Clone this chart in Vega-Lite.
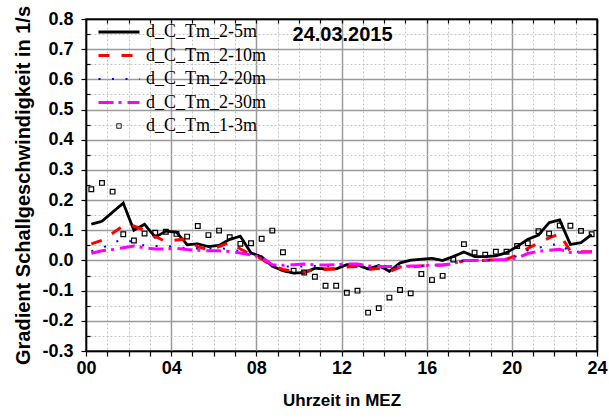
{
  "$schema": "https://vega.github.io/schema/vega-lite/v6.json",
  "width": 511,
  "height": 332,
  "autosize": {"type": "none"},
  "padding": {"left": 86, "top": 19, "right": 12, "bottom": 68},
  "background": "white",
  "config": {
    "view": {"stroke": "black", "strokeWidth": 1.5},
    "axis": {
      "domainColor": "black",
      "domainWidth": 1.5,
      "tickColor": "black",
      "tickWidth": 1.2,
      "labelFont": "Liberation Sans",
      "labelFontWeight": "bold",
      "labelFontSize": 18,
      "labelColor": "black",
      "titleFont": "Liberation Sans",
      "titleFontWeight": "bold",
      "titleColor": "black"
    }
  },
  "data": {
    "values": [
      {"t": 0.25, "v": 0.12, "s": "d_C_Tm_2-5m"},
      {"t": 0.75, "v": 0.13, "s": "d_C_Tm_2-5m"},
      {"t": 1.25, "v": 0.16, "s": "d_C_Tm_2-5m"},
      {"t": 1.75, "v": 0.19, "s": "d_C_Tm_2-5m"},
      {"t": 2.25, "v": 0.10, "s": "d_C_Tm_2-5m"},
      {"t": 2.75, "v": 0.12, "s": "d_C_Tm_2-5m"},
      {"t": 3.25, "v": 0.077, "s": "d_C_Tm_2-5m"},
      {"t": 3.75, "v": 0.097, "s": "d_C_Tm_2-5m"},
      {"t": 4.25, "v": 0.094, "s": "d_C_Tm_2-5m"},
      {"t": 4.75, "v": 0.052, "s": "d_C_Tm_2-5m"},
      {"t": 5.25, "v": 0.055, "s": "d_C_Tm_2-5m"},
      {"t": 5.75, "v": 0.046, "s": "d_C_Tm_2-5m"},
      {"t": 6.25, "v": 0.05, "s": "d_C_Tm_2-5m"},
      {"t": 6.75, "v": 0.07, "s": "d_C_Tm_2-5m"},
      {"t": 7.25, "v": 0.08, "s": "d_C_Tm_2-5m"},
      {"t": 7.75, "v": 0.025, "s": "d_C_Tm_2-5m"},
      {"t": 8.25, "v": 0.012, "s": "d_C_Tm_2-5m"},
      {"t": 8.75, "v": -0.019, "s": "d_C_Tm_2-5m"},
      {"t": 9.25, "v": -0.034, "s": "d_C_Tm_2-5m"},
      {"t": 9.75, "v": -0.042, "s": "d_C_Tm_2-5m"},
      {"t": 10.25, "v": -0.04, "s": "d_C_Tm_2-5m"},
      {"t": 10.75, "v": -0.026, "s": "d_C_Tm_2-5m"},
      {"t": 11.25, "v": -0.028, "s": "d_C_Tm_2-5m"},
      {"t": 11.75, "v": -0.028, "s": "d_C_Tm_2-5m"},
      {"t": 12.25, "v": -0.014, "s": "d_C_Tm_2-5m"},
      {"t": 12.75, "v": -0.015, "s": "d_C_Tm_2-5m"},
      {"t": 13.25, "v": -0.028, "s": "d_C_Tm_2-5m"},
      {"t": 13.75, "v": -0.017, "s": "d_C_Tm_2-5m"},
      {"t": 14.25, "v": -0.036, "s": "d_C_Tm_2-5m"},
      {"t": 14.75, "v": -0.008, "s": "d_C_Tm_2-5m"},
      {"t": 15.25, "v": 0.001, "s": "d_C_Tm_2-5m"},
      {"t": 15.75, "v": 0.004, "s": "d_C_Tm_2-5m"},
      {"t": 16.25, "v": 0.007, "s": "d_C_Tm_2-5m"},
      {"t": 16.75, "v": 0.0, "s": "d_C_Tm_2-5m"},
      {"t": 17.25, "v": 0.013, "s": "d_C_Tm_2-5m"},
      {"t": 17.75, "v": 0.028, "s": "d_C_Tm_2-5m"},
      {"t": 18.25, "v": 0.013, "s": "d_C_Tm_2-5m"},
      {"t": 18.75, "v": 0.013, "s": "d_C_Tm_2-5m"},
      {"t": 19.25, "v": 0.015, "s": "d_C_Tm_2-5m"},
      {"t": 19.75, "v": 0.026, "s": "d_C_Tm_2-5m"},
      {"t": 20.25, "v": 0.046, "s": "d_C_Tm_2-5m"},
      {"t": 20.75, "v": 0.07, "s": "d_C_Tm_2-5m"},
      {"t": 21.25, "v": 0.084, "s": "d_C_Tm_2-5m"},
      {"t": 21.75, "v": 0.125, "s": "d_C_Tm_2-5m"},
      {"t": 22.25, "v": 0.134, "s": "d_C_Tm_2-5m"},
      {"t": 22.75, "v": 0.053, "s": "d_C_Tm_2-5m"},
      {"t": 23.25, "v": 0.059, "s": "d_C_Tm_2-5m"},
      {"t": 23.75, "v": 0.086, "s": "d_C_Tm_2-5m"},

      {"t": 0.25, "v": 0.055, "s": "d_C_Tm_2-10m"},
      {"t": 0.75, "v": 0.067, "s": "d_C_Tm_2-10m"},
      {"t": 1.25, "v": 0.09, "s": "d_C_Tm_2-10m"},
      {"t": 1.75, "v": 0.115, "s": "d_C_Tm_2-10m"},
      {"t": 2.25, "v": 0.114, "s": "d_C_Tm_2-10m"},
      {"t": 2.75, "v": 0.10, "s": "d_C_Tm_2-10m"},
      {"t": 3.25, "v": 0.08, "s": "d_C_Tm_2-10m"},
      {"t": 3.75, "v": 0.062, "s": "d_C_Tm_2-10m"},
      {"t": 4.25, "v": 0.068, "s": "d_C_Tm_2-10m"},
      {"t": 4.75, "v": 0.072, "s": "d_C_Tm_2-10m"},
      {"t": 5.25, "v": 0.045, "s": "d_C_Tm_2-10m"},
      {"t": 5.75, "v": 0.036, "s": "d_C_Tm_2-10m"},
      {"t": 6.25, "v": 0.046, "s": "d_C_Tm_2-10m"},
      {"t": 6.75, "v": 0.06, "s": "d_C_Tm_2-10m"},
      {"t": 7.25, "v": 0.038, "s": "d_C_Tm_2-10m"},
      {"t": 7.75, "v": 0.02, "s": "d_C_Tm_2-10m"},
      {"t": 8.25, "v": 0.005, "s": "d_C_Tm_2-10m"},
      {"t": 8.75, "v": -0.018, "s": "d_C_Tm_2-10m"},
      {"t": 9.25, "v": -0.03, "s": "d_C_Tm_2-10m"},
      {"t": 9.75, "v": -0.036, "s": "d_C_Tm_2-10m"},
      {"t": 10.25, "v": -0.038, "s": "d_C_Tm_2-10m"},
      {"t": 10.75, "v": -0.03, "s": "d_C_Tm_2-10m"},
      {"t": 11.25, "v": -0.03, "s": "d_C_Tm_2-10m"},
      {"t": 11.75, "v": -0.028, "s": "d_C_Tm_2-10m"},
      {"t": 12.25, "v": -0.022, "s": "d_C_Tm_2-10m"},
      {"t": 12.75, "v": -0.02, "s": "d_C_Tm_2-10m"},
      {"t": 13.25, "v": -0.03, "s": "d_C_Tm_2-10m"},
      {"t": 13.75, "v": -0.026, "s": "d_C_Tm_2-10m"},
      {"t": 14.25, "v": -0.037, "s": "d_C_Tm_2-10m"},
      {"t": 14.75, "v": -0.022, "s": "d_C_Tm_2-10m"},
      {"t": 15.25, "v": -0.022, "s": "d_C_Tm_2-10m"},
      {"t": 15.75, "v": -0.018, "s": "d_C_Tm_2-10m"},
      {"t": 16.25, "v": -0.016, "s": "d_C_Tm_2-10m"},
      {"t": 16.75, "v": -0.015, "s": "d_C_Tm_2-10m"},
      {"t": 17.25, "v": -0.012, "s": "d_C_Tm_2-10m"},
      {"t": 17.75, "v": 0.0, "s": "d_C_Tm_2-10m"},
      {"t": 18.25, "v": 0.0, "s": "d_C_Tm_2-10m"},
      {"t": 18.75, "v": 0.0, "s": "d_C_Tm_2-10m"},
      {"t": 19.25, "v": 0.003, "s": "d_C_Tm_2-10m"},
      {"t": 19.75, "v": 0.004, "s": "d_C_Tm_2-10m"},
      {"t": 20.25, "v": 0.018, "s": "d_C_Tm_2-10m"},
      {"t": 20.75, "v": 0.04, "s": "d_C_Tm_2-10m"},
      {"t": 21.25, "v": 0.058, "s": "d_C_Tm_2-10m"},
      {"t": 21.75, "v": 0.075, "s": "d_C_Tm_2-10m"},
      {"t": 22.25, "v": 0.088, "s": "d_C_Tm_2-10m"},
      {"t": 22.75, "v": 0.03, "s": "d_C_Tm_2-10m"},
      {"t": 23.25, "v": 0.029, "s": "d_C_Tm_2-10m"},
      {"t": 23.75, "v": 0.029, "s": "d_C_Tm_2-10m"},

      {"t": 0.25, "v": 0.031, "s": "d_C_Tm_2-20m"},
      {"t": 0.75, "v": 0.04, "s": "d_C_Tm_2-20m"},
      {"t": 1.25, "v": 0.059, "s": "d_C_Tm_2-20m"},
      {"t": 1.75, "v": 0.07, "s": "d_C_Tm_2-20m"},
      {"t": 2.25, "v": 0.06, "s": "d_C_Tm_2-20m"},
      {"t": 2.75, "v": 0.049, "s": "d_C_Tm_2-20m"},
      {"t": 3.25, "v": 0.048, "s": "d_C_Tm_2-20m"},
      {"t": 3.75, "v": 0.048, "s": "d_C_Tm_2-20m"},
      {"t": 4.25, "v": 0.045, "s": "d_C_Tm_2-20m"},
      {"t": 4.75, "v": 0.04, "s": "d_C_Tm_2-20m"},
      {"t": 5.25, "v": 0.04, "s": "d_C_Tm_2-20m"},
      {"t": 5.75, "v": 0.04, "s": "d_C_Tm_2-20m"},
      {"t": 6.25, "v": 0.04, "s": "d_C_Tm_2-20m"},
      {"t": 6.75, "v": 0.038, "s": "d_C_Tm_2-20m"},
      {"t": 7.25, "v": 0.03, "s": "d_C_Tm_2-20m"},
      {"t": 7.75, "v": 0.022, "s": "d_C_Tm_2-20m"},
      {"t": 8.25, "v": 0.008, "s": "d_C_Tm_2-20m"},
      {"t": 8.75, "v": -0.016, "s": "d_C_Tm_2-20m"},
      {"t": 9.25, "v": -0.02, "s": "d_C_Tm_2-20m"},
      {"t": 9.75, "v": -0.02, "s": "d_C_Tm_2-20m"},
      {"t": 10.25, "v": -0.02, "s": "d_C_Tm_2-20m"},
      {"t": 10.75, "v": -0.018, "s": "d_C_Tm_2-20m"},
      {"t": 11.25, "v": -0.018, "s": "d_C_Tm_2-20m"},
      {"t": 11.75, "v": -0.018, "s": "d_C_Tm_2-20m"},
      {"t": 12.25, "v": -0.015, "s": "d_C_Tm_2-20m"},
      {"t": 12.75, "v": -0.016, "s": "d_C_Tm_2-20m"},
      {"t": 13.25, "v": -0.024, "s": "d_C_Tm_2-20m"},
      {"t": 13.75, "v": -0.022, "s": "d_C_Tm_2-20m"},
      {"t": 14.25, "v": -0.025, "s": "d_C_Tm_2-20m"},
      {"t": 14.75, "v": -0.02, "s": "d_C_Tm_2-20m"},
      {"t": 15.25, "v": -0.02, "s": "d_C_Tm_2-20m"},
      {"t": 15.75, "v": -0.018, "s": "d_C_Tm_2-20m"},
      {"t": 16.25, "v": -0.016, "s": "d_C_Tm_2-20m"},
      {"t": 16.75, "v": -0.015, "s": "d_C_Tm_2-20m"},
      {"t": 17.25, "v": -0.012, "s": "d_C_Tm_2-20m"},
      {"t": 17.75, "v": 0.0, "s": "d_C_Tm_2-20m"},
      {"t": 18.25, "v": 0.0, "s": "d_C_Tm_2-20m"},
      {"t": 18.75, "v": 0.0, "s": "d_C_Tm_2-20m"},
      {"t": 19.25, "v": 0.002, "s": "d_C_Tm_2-20m"},
      {"t": 19.75, "v": 0.003, "s": "d_C_Tm_2-20m"},
      {"t": 20.25, "v": 0.015, "s": "d_C_Tm_2-20m"},
      {"t": 20.75, "v": 0.034, "s": "d_C_Tm_2-20m"},
      {"t": 21.25, "v": 0.042, "s": "d_C_Tm_2-20m"},
      {"t": 21.75, "v": 0.05, "s": "d_C_Tm_2-20m"},
      {"t": 22.25, "v": 0.055, "s": "d_C_Tm_2-20m"},
      {"t": 22.75, "v": 0.028, "s": "d_C_Tm_2-20m"},
      {"t": 23.25, "v": 0.029, "s": "d_C_Tm_2-20m"},
      {"t": 23.75, "v": 0.03, "s": "d_C_Tm_2-20m"},

      {"t": 0.25, "v": 0.024, "s": "d_C_Tm_2-30m"},
      {"t": 0.75, "v": 0.032, "s": "d_C_Tm_2-30m"},
      {"t": 1.25, "v": 0.036, "s": "d_C_Tm_2-30m"},
      {"t": 1.75, "v": 0.042, "s": "d_C_Tm_2-30m"},
      {"t": 2.25, "v": 0.048, "s": "d_C_Tm_2-30m"},
      {"t": 2.75, "v": 0.042, "s": "d_C_Tm_2-30m"},
      {"t": 3.25, "v": 0.038, "s": "d_C_Tm_2-30m"},
      {"t": 3.75, "v": 0.038, "s": "d_C_Tm_2-30m"},
      {"t": 4.25, "v": 0.04, "s": "d_C_Tm_2-30m"},
      {"t": 4.75, "v": 0.036, "s": "d_C_Tm_2-30m"},
      {"t": 5.25, "v": 0.034, "s": "d_C_Tm_2-30m"},
      {"t": 5.75, "v": 0.032, "s": "d_C_Tm_2-30m"},
      {"t": 6.25, "v": 0.032, "s": "d_C_Tm_2-30m"},
      {"t": 6.75, "v": 0.03, "s": "d_C_Tm_2-30m"},
      {"t": 7.25, "v": 0.025, "s": "d_C_Tm_2-30m"},
      {"t": 7.75, "v": 0.018, "s": "d_C_Tm_2-30m"},
      {"t": 8.25, "v": 0.01, "s": "d_C_Tm_2-30m"},
      {"t": 8.75, "v": -0.014, "s": "d_C_Tm_2-30m"},
      {"t": 9.25, "v": -0.016, "s": "d_C_Tm_2-30m"},
      {"t": 9.75, "v": -0.014, "s": "d_C_Tm_2-30m"},
      {"t": 10.25, "v": -0.012, "s": "d_C_Tm_2-30m"},
      {"t": 10.75, "v": -0.015, "s": "d_C_Tm_2-30m"},
      {"t": 11.25, "v": -0.015, "s": "d_C_Tm_2-30m"},
      {"t": 11.75, "v": -0.014, "s": "d_C_Tm_2-30m"},
      {"t": 12.25, "v": -0.012, "s": "d_C_Tm_2-30m"},
      {"t": 12.75, "v": -0.012, "s": "d_C_Tm_2-30m"},
      {"t": 13.25, "v": -0.018, "s": "d_C_Tm_2-30m"},
      {"t": 13.75, "v": -0.02, "s": "d_C_Tm_2-30m"},
      {"t": 14.25, "v": -0.02, "s": "d_C_Tm_2-30m"},
      {"t": 14.75, "v": -0.02, "s": "d_C_Tm_2-30m"},
      {"t": 15.25, "v": -0.018, "s": "d_C_Tm_2-30m"},
      {"t": 15.75, "v": -0.018, "s": "d_C_Tm_2-30m"},
      {"t": 16.25, "v": -0.015, "s": "d_C_Tm_2-30m"},
      {"t": 16.75, "v": -0.015, "s": "d_C_Tm_2-30m"},
      {"t": 17.25, "v": -0.01, "s": "d_C_Tm_2-30m"},
      {"t": 17.75, "v": 0.0, "s": "d_C_Tm_2-30m"},
      {"t": 18.25, "v": 0.0, "s": "d_C_Tm_2-30m"},
      {"t": 18.75, "v": 0.001, "s": "d_C_Tm_2-30m"},
      {"t": 19.25, "v": 0.002, "s": "d_C_Tm_2-30m"},
      {"t": 19.75, "v": 0.002, "s": "d_C_Tm_2-30m"},
      {"t": 20.25, "v": 0.008, "s": "d_C_Tm_2-30m"},
      {"t": 20.75, "v": 0.023, "s": "d_C_Tm_2-30m"},
      {"t": 21.25, "v": 0.03, "s": "d_C_Tm_2-30m"},
      {"t": 21.75, "v": 0.034, "s": "d_C_Tm_2-30m"},
      {"t": 22.25, "v": 0.037, "s": "d_C_Tm_2-30m"},
      {"t": 22.75, "v": 0.026, "s": "d_C_Tm_2-30m"},
      {"t": 23.25, "v": 0.027, "s": "d_C_Tm_2-30m"},
      {"t": 23.75, "v": 0.028, "s": "d_C_Tm_2-30m"},

      {"t": 0.25, "v": 0.236, "s": "d_C_Tm_1-3m"},
      {"t": 0.75, "v": 0.257, "s": "d_C_Tm_1-3m"},
      {"t": 1.25, "v": 0.228, "s": "d_C_Tm_1-3m"},
      {"t": 1.75, "v": 0.087, "s": "d_C_Tm_1-3m"},
      {"t": 2.25, "v": 0.066, "s": "d_C_Tm_1-3m"},
      {"t": 2.75, "v": 0.089, "s": "d_C_Tm_1-3m"},
      {"t": 3.25, "v": 0.092, "s": "d_C_Tm_1-3m"},
      {"t": 3.75, "v": 0.095, "s": "d_C_Tm_1-3m"},
      {"t": 4.25, "v": 0.088, "s": "d_C_Tm_1-3m"},
      {"t": 4.75, "v": 0.079, "s": "d_C_Tm_1-3m"},
      {"t": 5.25, "v": 0.114, "s": "d_C_Tm_1-3m"},
      {"t": 5.75, "v": 0.084, "s": "d_C_Tm_1-3m"},
      {"t": 6.25, "v": 0.099, "s": "d_C_Tm_1-3m"},
      {"t": 6.75, "v": 0.077, "s": "d_C_Tm_1-3m"},
      {"t": 7.25, "v": 0.055, "s": "d_C_Tm_1-3m"},
      {"t": 7.75, "v": 0.057, "s": "d_C_Tm_1-3m"},
      {"t": 8.25, "v": 0.072, "s": "d_C_Tm_1-3m"},
      {"t": 8.75, "v": 0.099, "s": "d_C_Tm_1-3m"},
      {"t": 9.25, "v": 0.027, "s": "d_C_Tm_1-3m"},
      {"t": 9.75, "v": -0.034, "s": "d_C_Tm_1-3m"},
      {"t": 10.25, "v": -0.04, "s": "d_C_Tm_1-3m"},
      {"t": 10.75, "v": -0.054, "s": "d_C_Tm_1-3m"},
      {"t": 11.25, "v": -0.084, "s": "d_C_Tm_1-3m"},
      {"t": 11.75, "v": -0.084, "s": "d_C_Tm_1-3m"},
      {"t": 12.25, "v": -0.107, "s": "d_C_Tm_1-3m"},
      {"t": 12.75, "v": -0.1, "s": "d_C_Tm_1-3m"},
      {"t": 13.25, "v": -0.173, "s": "d_C_Tm_1-3m"},
      {"t": 13.75, "v": -0.158, "s": "d_C_Tm_1-3m"},
      {"t": 14.25, "v": -0.123, "s": "d_C_Tm_1-3m"},
      {"t": 14.75, "v": -0.098, "s": "d_C_Tm_1-3m"},
      {"t": 15.25, "v": -0.109, "s": "d_C_Tm_1-3m"},
      {"t": 15.75, "v": -0.045, "s": "d_C_Tm_1-3m"},
      {"t": 16.25, "v": -0.065, "s": "d_C_Tm_1-3m"},
      {"t": 16.75, "v": -0.051, "s": "d_C_Tm_1-3m"},
      {"t": 17.25, "v": 0.003, "s": "d_C_Tm_1-3m"},
      {"t": 17.75, "v": 0.054, "s": "d_C_Tm_1-3m"},
      {"t": 18.25, "v": 0.026, "s": "d_C_Tm_1-3m"},
      {"t": 18.75, "v": 0.019, "s": "d_C_Tm_1-3m"},
      {"t": 19.25, "v": 0.029, "s": "d_C_Tm_1-3m"},
      {"t": 19.75, "v": 0.029, "s": "d_C_Tm_1-3m"},
      {"t": 20.25, "v": 0.048, "s": "d_C_Tm_1-3m"},
      {"t": 20.75, "v": 0.057, "s": "d_C_Tm_1-3m"},
      {"t": 21.25, "v": 0.097, "s": "d_C_Tm_1-3m"},
      {"t": 21.75, "v": 0.089, "s": "d_C_Tm_1-3m"},
      {"t": 22.25, "v": 0.116, "s": "d_C_Tm_1-3m"},
      {"t": 22.75, "v": 0.115, "s": "d_C_Tm_1-3m"},
      {"t": 23.25, "v": 0.098, "s": "d_C_Tm_1-3m"},
      {"t": 23.75, "v": 0.087, "s": "d_C_Tm_1-3m"}
    ]
  },
  "layer": [
    {
      "transform": [{"filter": "datum.s === 'd_C_Tm_2-5m'"}],
      "mark": {"type": "line", "strokeWidth": 2.8},
      "encoding": {
        "x": {
          "field": "t", "type": "quantitative",
          "scale": {"domain": [0, 24], "nice": false, "zero": false},
          "axis": {
            "orient": "bottom",
            "title": "Uhrzeit in MEZ",
            "titleFontSize": 17,
            "titlePadding": 15,
            "values": [0,1,2,3,4,5,6,7,8,9,10,11,12,13,14,15,16,17,18,19,20,21,22,23,24],
            "labelExpr": "datum.value % 4 === 0 ? (datum.value < 10 ? '0' + datum.value : '' + datum.value) : ''",
            "labelPadding": 3,
            "labelFlush": false,
            "labelOverlap": false,
            "tickSize": 5,
            "grid": true,
            "gridColor": {"condition": {"test": "datum.value % 4 === 0", "value": "#9a9a9a"}, "value": "#c4c4c4"},
            "gridDash": {"condition": {"test": "datum.value % 4 === 0", "value": []}, "value": [2, 2]},
            "gridWidth": {"condition": {"test": "datum.value % 4 === 0", "value": 1.5}, "value": 1}
          }
        },
        "y": {
          "field": "v", "type": "quantitative",
          "scale": {"domain": [-0.3, 0.8], "nice": false, "zero": false},
          "axis": {
            "orient": "left",
            "title": "Gradient Schallgeschwindigkeit in 1/s",
            "titleFontSize": 20,
            "titlePadding": 8,
            "values": [-0.3,-0.25,-0.2,-0.15,-0.1,-0.05,0,0.05,0.1,0.15,0.2,0.25,0.3,0.35,0.4,0.45,0.5,0.55,0.6,0.65,0.7,0.75,0.8],
            "labelExpr": "round(datum.value * 20) % 2 === 0 ? (datum.value < -0.001 ? '-' : '') + format(abs(datum.value), '.1f') : ''",
            "labelPadding": 8,
            "labelFlush": false,
            "labelOverlap": false,
            "tickSize": {"condition": {"test": "round(datum.value * 20) % 2 === 0", "value": 5}, "value": -4},
            "grid": true,
            "gridColor": {"condition": {"test": "round(datum.value * 20) % 2 === 0", "value": "#9a9a9a"}, "value": "#c4c4c4"},
            "gridDash": {"condition": {"test": "round(datum.value * 20) % 2 === 0", "value": []}, "value": [2, 2]},
            "gridWidth": {"condition": {"test": "round(datum.value * 20) % 2 === 0", "value": 1.5}, "value": 1}
          }
        },
        "color": {
          "field": "s", "type": "nominal",
          "scale": {
            "domain": ["d_C_Tm_2-5m", "d_C_Tm_2-10m", "d_C_Tm_2-20m", "d_C_Tm_2-30m", "d_C_Tm_1-3m"],
            "range": ["#000000", "#ff0000", "#0000ff", "#ff00ff", "#000000"]
          },
          "legend": {
            "title": null,
            "orient": "none",
            "legendX": 24,
            "legendY": 4,
            "padding": 0,
            "labelFont": "Liberation Serif",
            "labelFontSize": 18,
            "labelColor": "black",
            "labelOffset": 18,
            "labelLimit": 400,
            "symbolType": "stroke",
            "symbolSize": 1681,
            "rowPadding": 5.5,
            "encode": {
              "symbols": {
                "update": {
                  "shape": {"signal": "datum.value === 'd_C_Tm_1-3m' ? 'square' : 'stroke'"},
                  "size": {"signal": "datum.value === 'd_C_Tm_1-3m' ? 20 : 1681"},
                  "strokeWidth": {"signal": "datum.value === 'd_C_Tm_1-3m' ? 1 : datum.value === 'd_C_Tm_2-20m' ? 2 : datum.value === 'd_C_Tm_2-5m' ? 2.8 : 3"},
                  "fill": {"value": "transparent"}
                }
              }
            }
          }
        },
        "strokeDash": {
          "field": "s", "type": "nominal",
          "scale": {
            "domain": ["d_C_Tm_2-5m", "d_C_Tm_2-10m", "d_C_Tm_2-20m", "d_C_Tm_2-30m", "d_C_Tm_1-3m"],
            "range": [[1, 0], [11, 12], [2, 11.5], [15, 5, 3, 6], [1, 0]]
          }
        }
      }
    },
    {
      "transform": [{"filter": "datum.s === 'd_C_Tm_2-10m'"}],
      "mark": {"type": "line", "strokeWidth": 3},
      "encoding": {
        "x": {"field": "t", "type": "quantitative", "axis": null},
        "y": {"field": "v", "type": "quantitative", "axis": null},
        "color": {"field": "s", "type": "nominal"},
        "strokeDash": {"field": "s", "type": "nominal"}
      }
    },
    {
      "transform": [{"filter": "datum.s === 'd_C_Tm_2-20m'"}],
      "mark": {"type": "line", "strokeWidth": 2},
      "encoding": {
        "x": {"field": "t", "type": "quantitative", "axis": null},
        "y": {"field": "v", "type": "quantitative", "axis": null},
        "color": {"field": "s", "type": "nominal"},
        "strokeDash": {"field": "s", "type": "nominal"}
      }
    },
    {
      "transform": [{"filter": "datum.s === 'd_C_Tm_2-30m'"}],
      "mark": {"type": "line", "strokeWidth": 3},
      "encoding": {
        "x": {"field": "t", "type": "quantitative", "axis": null},
        "y": {"field": "v", "type": "quantitative", "axis": null},
        "color": {"field": "s", "type": "nominal"},
        "strokeDash": {"field": "s", "type": "nominal"}
      }
    },
    {
      "transform": [{"filter": "datum.s === 'd_C_Tm_1-3m'"}],
      "mark": {"type": "point", "shape": "square", "filled": false, "size": 22, "strokeWidth": 1.2, "opacity": 1},
      "encoding": {
        "x": {
          "field": "t", "type": "quantitative",
          "axis": {
            "orient": "top", "title": null, "labels": false, "grid": false,
            "values": [0,1,2,3,4,5,6,7,8,9,10,11,12,13,14,15,16,17,18,19,20,21,22,23,24],
            "tickSize": -4
          }
        },
        "y": {
          "field": "v", "type": "quantitative",
          "axis": {
            "orient": "right", "title": null, "labels": false, "grid": false,
            "values": [-0.3,-0.25,-0.2,-0.15,-0.1,-0.05,0,0.05,0.1,0.15,0.2,0.25,0.3,0.35,0.4,0.45,0.5,0.55,0.6,0.65,0.7,0.75,0.8],
            "tickSize": -4
          }
        },
        "color": {"field": "s", "type": "nominal"}
      }
    },
    {
      "data": {"values": [{"label": "24.03.2015", "t": 12.05, "v": 0.727}]},
      "mark": {
        "type": "text",
        "font": "Liberation Sans",
        "fontSize": 20,
        "fontWeight": "bold",
        "color": "black",
        "align": "center",
        "baseline": "alphabetic"
      },
      "encoding": {
        "x": {"field": "t", "type": "quantitative", "axis": null},
        "y": {"field": "v", "type": "quantitative", "axis": null},
        "text": {"field": "label"}
      }
    }
  ],
  "resolve": {"axis": {"x": "independent", "y": "independent"}}
}
